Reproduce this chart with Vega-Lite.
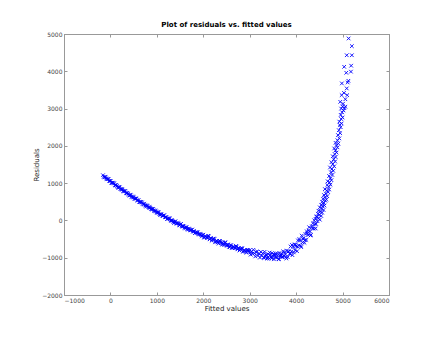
{
"$schema": "https://vega.github.io/schema/vega-lite/v6.json",
"width": 325, "height": 261,
"autosize": {"type": "none"},
"padding": {"left": 64, "top": 34, "right": 51, "bottom": 45},
"background": "white",
"title": {"text": "Plot of residuals vs. fitted values", "fontSize": 7, "fontWeight": "bold", "font": "DejaVu Sans", "offset": 3, "color": "#000"},
"config": {
 "view": {"stroke": "#999", "strokeWidth": 1},
 "axis": {"labelFont": "DejaVu Sans", "titleFont": "DejaVu Sans", "labelFontSize": 6, "titleFontSize": 7, "titleFontWeight": "normal", "labelColor": "#444", "titleColor": "#222", "grid": false, "tickColor": "#999", "domainColor": "#999", "tickSize": -3, "labelPadding": 5, "format": "d"}
},
"datasets": {"pts": [
{"f":-160,"r":1212},{"f":-130,"r":1154},{"f":-100,"r":1149},{"f":-70,"r":1107},{"f":-40,"r":1107},{"f":-10,"r":1056},{"f":20,"r":1010},{"f":50,"r":1013},{"f":80,"r":992},{"f":110,"r":937},{"f":140,"r":924},{"f":170,"r":871},{"f":200,"r":887},{"f":230,"r":836},{"f":260,"r":826},{"f":290,"r":775},{"f":320,"r":788},{"f":350,"r":728},{"f":380,"r":717},{"f":410,"r":667},{"f":440,"r":674},{"f":470,"r":619},{"f":500,"r":617},{"f":530,"r":579},{"f":560,"r":583},{"f":590,"r":535},{"f":620,"r":492},{"f":650,"r":499},{"f":680,"r":481},{"f":710,"r":431},{"f":740,"r":421},{"f":770,"r":371},{"f":800,"r":391},{"f":830,"r":344},{"f":860,"r":337},{"f":890,"r":290},{"f":920,"r":306},{"f":950,"r":250},{"f":980,"r":242},{"f":1010,"r":196},
{"f":-145,"r":1170},{"f":-115,"r":1172},{"f":-85,"r":1118},{"f":-55,"r":1110},{"f":-25,"r":1062},{"f":5,"r":1058},{"f":35,"r":1005},{"f":65,"r":1004},{"f":95,"r":948},{"f":125,"r":952},{"f":155,"r":895},{"f":185,"r":900},{"f":215,"r":846},{"f":245,"r":840},{"f":275,"r":790},{"f":305,"r":793},{"f":335,"r":740},{"f":365,"r":738},{"f":395,"r":688},{"f":425,"r":690},{"f":455,"r":638},{"f":485,"r":640},{"f":515,"r":590},{"f":545,"r":592},{"f":575,"r":541},{"f":605,"r":543},{"f":635,"r":494},{"f":665,"r":496},{"f":695,"r":446},{"f":725,"r":449},{"f":755,"r":400},{"f":785,"r":403},{"f":815,"r":354},{"f":845,"r":357},{"f":875,"r":309},{"f":905,"r":312},{"f":935,"r":264},{"f":965,"r":268},{"f":995,"r":220},{"f":1025,"r":224},
{"f":1040,"r":212},{"f":1070,"r":146},{"f":1100,"r":159},{"f":1130,"r":118},{"f":1160,"r":139},{"f":1190,"r":83},{"f":1220,"r":35},{"f":1250,"r":61},{"f":1280,"r":49},{"f":1310,"r":-11},{"f":1340,"r":-10},{"f":1370,"r":-70},{"f":1400,"r":-26},{"f":1430,"r":-81},{"f":1460,"r":-76},{"f":1490,"r":-132},{"f":1520,"r":-93},{"f":1550,"r":-163},{"f":1580,"r":-160},{"f":1610,"r":-215},{"f":1640,"r":-185},{"f":1670,"r":-248},{"f":1700,"r":-231},{"f":1730,"r":-268},{"f":1760,"r":-244},{"f":1790,"r":-296},{"f":1820,"r":-341},{"f":1850,"r":-311},{"f":1880,"r":-320},{"f":1910,"r":-377},{"f":1940,"r":-372},{"f":1970,"r":-428},
{"f":1055,"r":170},{"f":1085,"r":175},{"f":1115,"r":128},{"f":1145,"r":132},{"f":1175,"r":86},{"f":1205,"r":90},{"f":1235,"r":46},{"f":1265,"r":50},{"f":1295,"r":3},{"f":1325,"r":8},{"f":1355,"r":-36},{"f":1385,"r":-30},{"f":1415,"r":-75},{"f":1445,"r":-70},{"f":1475,"r":-114},{"f":1505,"r":-108},{"f":1535,"r":-152},{"f":1565,"r":-146},{"f":1595,"r":-189},{"f":1625,"r":-183},{"f":1655,"r":-225},{"f":1685,"r":-219},{"f":1715,"r":-261},{"f":1745,"r":-255},{"f":1775,"r":-296},{"f":1805,"r":-290},{"f":1835,"r":-330},{"f":1865,"r":-324},{"f":1895,"r":-364},{"f":1925,"r":-357},{"f":1955,"r":-397},{"f":1985,"r":-390},
{"f":2000,"r":-383},{"f":2030,"r":-459},{"f":2060,"r":-429},{"f":2090,"r":-470},{"f":2120,"r":-430},{"f":2150,"r":-491},{"f":2180,"r":-544},{"f":2210,"r":-497},{"f":2240,"r":-499},{"f":2270,"r":-568},{"f":2300,"r":-554},{"f":2330,"r":-622},{"f":2360,"r":-550},{"f":2390,"r":-612},{"f":2420,"r":-593},{"f":2450,"r":-657},{"f":2480,"r":-592},{"f":2510,"r":-673},{"f":2540,"r":-658},{"f":2570,"r":-719},{"f":2600,"r":-667},{"f":2630,"r":-740},{"f":2660,"r":-706},{"f":2690,"r":-744},{"f":2720,"r":-700},{"f":2750,"r":-757},{"f":2780,"r":-807},{"f":2810,"r":-756},{"f":2840,"r":-755},{"f":2870,"r":-820},{"f":2900,"r":-803},{"f":2930,"r":-867},{"f":2960,"r":-792},{"f":2990,"r":-850},
{"f":2015,"r":-455},{"f":2045,"r":-423},{"f":2075,"r":-466},{"f":2105,"r":-414},{"f":2135,"r":-507},{"f":2165,"r":-472},{"f":2195,"r":-519},{"f":2225,"r":-486},{"f":2255,"r":-586},{"f":2285,"r":-547},{"f":2315,"r":-589},{"f":2345,"r":-549},{"f":2375,"r":-575},{"f":2405,"r":-651},{"f":2435,"r":-626},{"f":2465,"r":-593},{"f":2495,"r":-663},{"f":2525,"r":-650},{"f":2555,"r":-708},{"f":2585,"r":-661},{"f":2615,"r":-737},{"f":2645,"r":-702},{"f":2675,"r":-742},{"f":2705,"r":-686},{"f":2735,"r":-775},{"f":2765,"r":-737},{"f":2795,"r":-780},{"f":2825,"r":-744},{"f":2855,"r":-841},{"f":2885,"r":-797},{"f":2915,"r":-836},{"f":2945,"r":-792},{"f":2975,"r":-815},
{"f":3000,"r":-797},{"f":3020,"r":-918},{"f":3040,"r":-835},{"f":3060,"r":-891},{"f":3080,"r":-788},{"f":3100,"r":-884},{"f":3120,"r":-965},{"f":3140,"r":-850},{"f":3160,"r":-831},{"f":3180,"r":-941},{"f":3200,"r":-897},{"f":3220,"r":-997},{"f":3240,"r":-842},{"f":3260,"r":-943},{"f":3280,"r":-883},{"f":3300,"r":-988},{"f":3320,"r":-842},{"f":3340,"r":-976},{"f":3360,"r":-925},{"f":3380,"r":-1024},{"f":3400,"r":-903},{"f":3420,"r":-1020},{"f":3440,"r":-932},{"f":3460,"r":-984},{"f":3480,"r":-876},{"f":3500,"r":-968},{"f":3520,"r":-1042},{"f":3540,"r":-922},{"f":3560,"r":-896},{"f":3580,"r":-1001},{"f":3600,"r":-950},{"f":3620,"r":-1040},{"f":3640,"r":-875},{"f":3660,"r":-965},{"f":3680,"r":-895},{"f":3700,"r":-990},{"f":3720,"r":-831},{"f":3740,"r":-952},{"f":3760,"r":-888},{"f":3780,"r":-974},
{"f":3800,"r":-810},{"f":3820,"r":-986},{"f":3840,"r":-827},{"f":3860,"r":-893},{"f":3880,"r":-699},{"f":3900,"r":-830},{"f":3920,"r":-932},{"f":3940,"r":-714},{"f":3960,"r":-646},{"f":3980,"r":-798},{"f":4000,"r":-690},{"f":4020,"r":-826},{"f":4040,"r":-537},{"f":4060,"r":-668},{"f":4080,"r":-539},{"f":4100,"r":-680},{"f":4120,"r":-407},{"f":4140,"r":-589},{"f":4160,"r":-471},{"f":4180,"r":-598},{"f":4200,"r":-365},{"f":4220,"r":-523},{"f":4240,"r":-346},{"f":4260,"r":-394},{"f":4280,"r":-182},{"f":4300,"r":-295},{"f":4320,"r":-386},{"f":4340,"r":-157},{"f":4360,"r":-78},{"f":4380,"r":-219},{"f":4400,"r":-100},{"f":4420,"r":-216},{"f":4440,"r":93},
{"f":3310,"r":-1010},{"f":3350,"r":-923},{"f":3390,"r":-986},{"f":3430,"r":-861},{"f":3470,"r":-1015},{"f":3510,"r":-918},{"f":3550,"r":-982},{"f":3590,"r":-885},{"f":3630,"r":-1038},{"f":3670,"r":-933},{"f":3710,"r":-971},{"f":3750,"r":-848},{"f":3790,"r":-1020},{"f":3830,"r":-839},{"f":3870,"r":-901},{"f":3910,"r":-659},{"f":3950,"r":-858},{"f":3990,"r":-647},{"f":4030,"r":-704},{"f":4070,"r":-501},{"f":4110,"r":-716},{"f":4150,"r":-500},{"f":4190,"r":-529},{"f":4230,"r":-292},{"f":4270,"r":-273},{"f":4310,"r":-403},{"f":4350,"r":-210},{"f":4390,"r":3},{"f":4430,"r":-94},
{"f":4460,"r":-20},{"f":4420,"r":40},{"f":4480,"r":60},{"f":4510,"r":20},{"f":4440,"r":110},{"f":4500,"r":150},{"f":4470,"r":180},{"f":4540,"r":120},{"f":4520,"r":240},{"f":4480,"r":260},{"f":4560,"r":210},{"f":4550,"r":310},{"f":4590,"r":280},{"f":4510,"r":350},{"f":4570,"r":380},{"f":4540,"r":420},{"f":4610,"r":400},{"f":4600,"r":470},{"f":4560,"r":500},{"f":4630,"r":530},{"f":4580,"r":580},{"f":4650,"r":560},{"f":4620,"r":620},{"f":4600,"r":680},{"f":4670,"r":650},{"f":4640,"r":720},{"f":4690,"r":760},{"f":4660,"r":800},{"f":4620,"r":840},{"f":4710,"r":830},{"f":4700,"r":900},{"f":4670,"r":950},{"f":4740,"r":960},{"f":4720,"r":1020},{"f":4680,"r":1050},
{"f":4760,"r":1080},{"f":4740,"r":1130},{"f":4710,"r":1190},{"f":4780,"r":1220},{"f":4750,"r":1290},{"f":4800,"r":1330},{"f":4770,"r":1380},{"f":4730,"r":1420},{"f":4820,"r":1450},{"f":4790,"r":1510},{"f":4760,"r":1560},{"f":4840,"r":1580},{"f":4810,"r":1640},{"f":4850,"r":1700},{"f":4790,"r":1720},{"f":4830,"r":1780},{"f":4870,"r":1820},{"f":4850,"r":1880},{"f":4820,"r":1930},{"f":4890,"r":1960},{"f":4870,"r":2020},{"f":4910,"r":2060},{"f":4850,"r":2080},
{"f":4890,"r":2150},{"f":4930,"r":2200},{"f":4900,"r":2290},{"f":4950,"r":2340},{"f":4920,"r":2420},{"f":4960,"r":2500},{"f":4940,"r":2560},{"f":4980,"r":2600},{"f":4930,"r":2650},{"f":4970,"r":2720},{"f":5000,"r":2760},{"f":4960,"r":2830},{"f":4990,"r":2900},{"f":5020,"r":2950},{"f":4970,"r":3000},{"f":5040,"r":3010},
{"f":5000,"r":3060},{"f":4950,"r":3180},{"f":5060,"r":3050},{"f":5010,"r":3130},{"f":4980,"r":3360},{"f":5100,"r":3360},{"f":5030,"r":3420},{"f":5090,"r":3540},{"f":5125,"r":3745},{"f":5110,"r":3700},{"f":4985,"r":3675},{"f":5080,"r":3960},{"f":5180,"r":3990},{"f":5035,"r":4120},{"f":5185,"r":4150},{"f":5090,"r":4430},{"f":5200,"r":4430},{"f":5130,"r":4880},{"f":5200,"r":4675},{"f":5060,"r":3250}
]},
"resolve": {"axis": {"x": "independent", "y": "independent"}},
"layer": [
 {"mark": {"type": "rule", "strokeDash": [1, 2], "color": "#aaa", "strokeWidth": 0.8},
  "encoding": {"y": {"datum": 0, "type": "quantitative", "axis": null}}},
 {"data": {"name": "pts"},
  "mark": {"type": "point", "shape": "M-1,-1L1,1M-1,1L1,-1", "filled": false, "color": "#0000ff", "size": 13, "strokeWidth": 0.9, "opacity": 1},
  "encoding": {
   "x": {"field": "f", "type": "quantitative", "scale": {"domain": [-1000, 6000], "nice": false, "zero": false},
         "axis": {"orient": "bottom", "values": [-1000, 0, 1000, 2000, 3000, 4000, 5000, 6000], "title": "Fitted values", "titlePadding": 1}},
   "y": {"field": "r", "type": "quantitative", "scale": {"domain": [-2000, 5000], "nice": false, "zero": false},
         "axis": {"orient": "left", "values": [-2000, -1000, 0, 1000, 2000, 3000, 4000, 5000], "title": "Residuals", "titlePadding": 2}}
  }},
 {"data": {"name": "pts"},
  "mark": {"type": "point", "opacity": 0},
  "encoding": {
   "x": {"field": "f", "type": "quantitative", "axis": {"orient": "top", "values": [-1000, 0, 1000, 2000, 3000, 4000, 5000, 6000], "labels": false, "title": null}},
   "y": {"field": "r", "type": "quantitative", "axis": {"orient": "right", "values": [-2000, -1000, 0, 1000, 2000, 3000, 4000, 5000], "labels": false, "title": null}}
  }}
]
}
